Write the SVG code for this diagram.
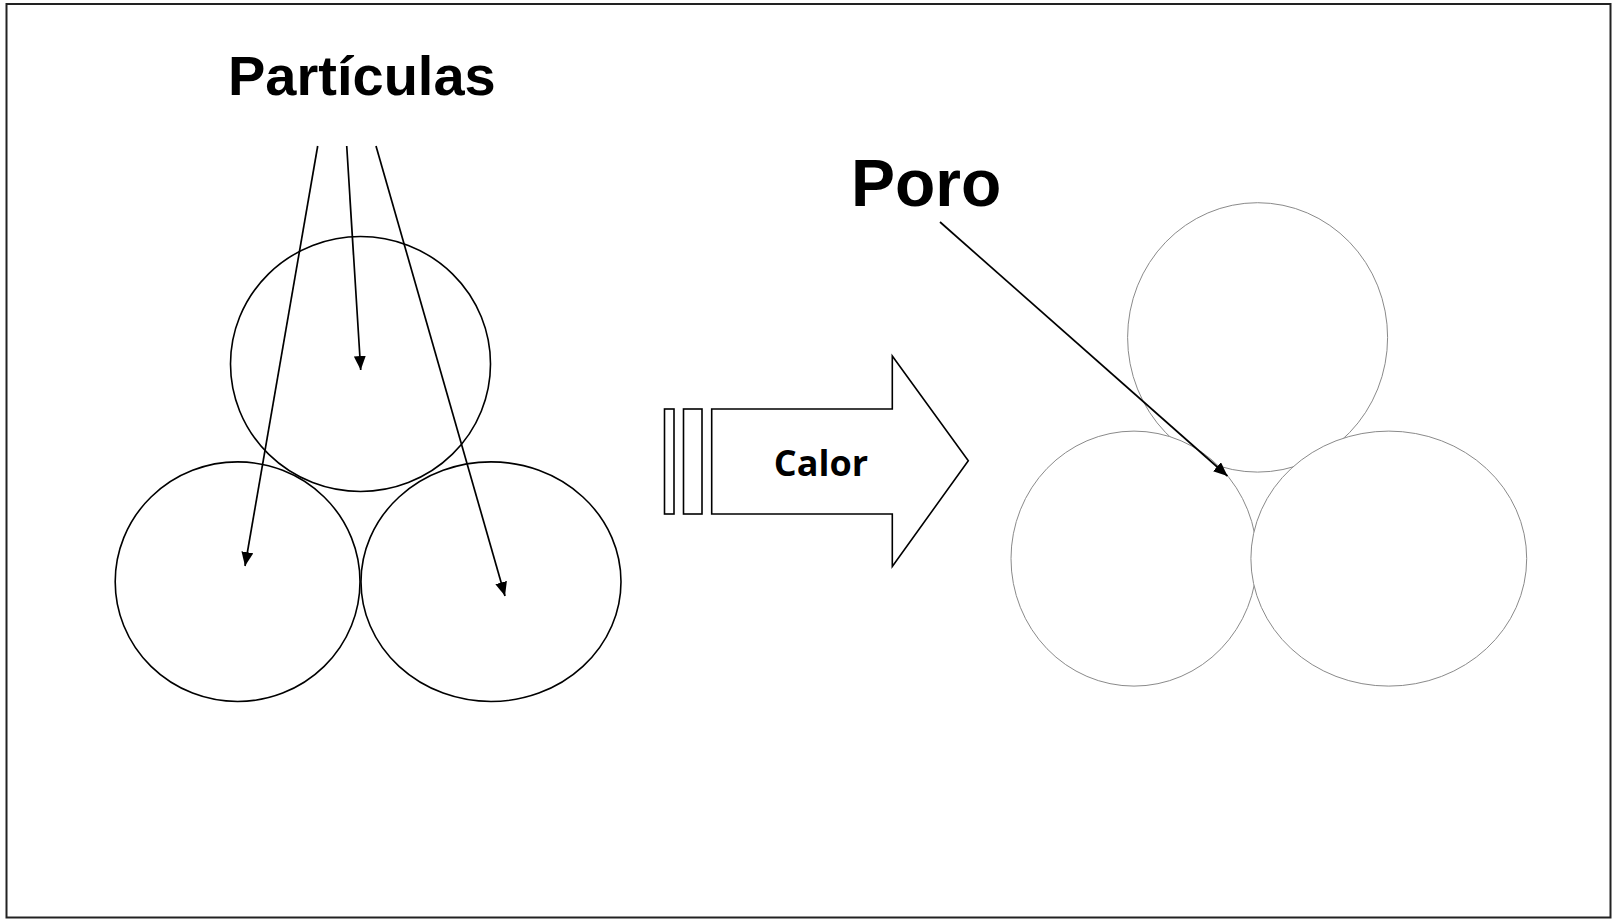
<svg xmlns="http://www.w3.org/2000/svg" width="1613" height="919" viewBox="0 0 1613 919">
<style>
.lbl{font-family:"Liberation Sans",Arial,sans-serif;font-weight:bold;fill:#000}
.calor{font-family:"Open Sans","Noto Sans",sans-serif;font-weight:bold;fill:#000}
.pl{fill:none;stroke:#000;stroke-width:1.6}
.pr{fill:#fff;stroke:#8a8a8a;stroke-width:1}
.conn{stroke:#000;stroke-width:1.7;fill:none}
</style>
<defs>
<marker id="ah" viewBox="0 0 14 12" refX="14" refY="6" markerWidth="14" markerHeight="12" markerUnits="userSpaceOnUse" orient="auto">
<path d="M0,0 L14,6 L0,12 Z" fill="#000"/>
</marker>
</defs>
<rect x="0" y="0" width="1613" height="919" fill="#fff"/>
<rect x="6.5" y="4" width="1604" height="913.5" fill="none" stroke="#222" stroke-width="2"/>

<g id="label-particulas"><text class="lbl" x="228" y="95" font-size="56">Partículas</text></g>
<g id="label-poro"><text class="lbl" x="851" y="206" font-size="66">Poro</text></g>

<g id="particle-top"><ellipse class="pl" cx="360.5" cy="364" rx="130" ry="127.5"/></g>
<g id="particle-left"><ellipse class="pl" cx="237.6" cy="581.7" rx="122.4" ry="119.8"/></g>
<g id="particle-right"><ellipse class="pl" cx="491" cy="581.7" rx="130" ry="119.8"/></g>

<g id="heat-arrow">
<rect x="664.5" y="409" width="9.5" height="105" fill="#fff" stroke="#000" stroke-width="1.6"/>
<rect x="683.5" y="409" width="18.5" height="105" fill="#fff" stroke="#000" stroke-width="1.6"/>
<path d="M711.7,409 L892.3,409 L892.3,356 L968.3,460.7 L892.3,566.5 L892.3,514 L711.7,514 Z" fill="#fff" stroke="#000" stroke-width="1.6"/>
<text class="calor" x="821" y="476" font-size="36" text-anchor="middle">Calor</text>
</g>

<g id="sintered-top"><ellipse class="pr" cx="1257.6" cy="337.4" rx="130" ry="134.7"/></g>
<g id="sintered-left"><ellipse class="pr" cx="1134" cy="558.6" rx="123" ry="127.5"/></g>
<g id="sintered-right"><ellipse class="pr" cx="1388.8" cy="558.6" rx="137.9" ry="127.5"/></g>

<g id="connectors">
<line class="conn" x1="317.7" y1="146" x2="245" y2="566" marker-end="url(#ah)"/>
<line class="conn" x1="346.7" y1="146" x2="360.7" y2="370" marker-end="url(#ah)"/>
<line class="conn" x1="376" y1="146" x2="505" y2="596" marker-end="url(#ah)"/>
<line class="conn" x1="940" y1="222" x2="1227.5" y2="476" marker-end="url(#ah)"/>
</g>
</svg>
